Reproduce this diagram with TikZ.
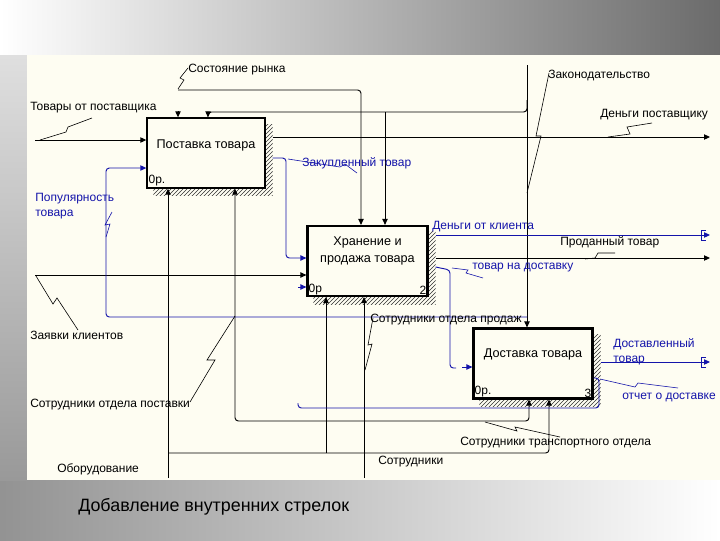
\documentclass[tikz,border=0pt]{standalone}
\usepackage{fontspec}
\setmainfont{Liberation Sans}
\usetikzlibrary{calc,patterns,arrows.meta}
\pgfdeclarelayer{bg}
\pgfsetlayers{bg,main}
\definecolor{cream}{RGB}{254,253,242}
\definecolor{idefblue}{RGB}{20,20,170}
\begin{document}
\begin{tikzpicture}[x=0.75pt,y=-0.75pt,
  lbl/.style={font=\fontsize{9}{11}\selectfont, inner sep=0pt, anchor=west, align=left},
  blbl/.style={lbl, text=idefblue},
  box/.style={draw, fill=cream, line width=1.6pt, minimum width=89.25pt, minimum height=52.5pt, inner sep=0pt},
  boxtxt/.style={font=\fontsize{9.5}{12.5}\selectfont, align=center, inner sep=0pt},
  corner/.style={font=\fontsize{9}{10}\selectfont, inner sep=1.5pt},
  con/.style={line width=0.7pt, rounded corners=2.5pt},
  bcon/.style={con, draw=idefblue},
  tip/.style={-{Triangle[length=4.5pt,width=4pt]}},
  sq/.style={line width=0.45pt},
  brk/.style={line width=0.7pt}
]
\useasboundingbox (0,0) rectangle (720,540);

% boxes
\node[box, line width=1pt, minimum width=88.5pt] (b1) at (206,153) {};
\node[box, minimum width=90pt] (b2) at (367.5,261) {};
\node[box] (b3) at (533,363.5) {};
\node[boxtxt] (b1t) at ($(b1.center)+(0,-8)$) {Поставка товара};
\node[boxtxt] (b2t) at ($(b2.center)+(0,-10)$) {Хранение и\\продажа товара};
\node[boxtxt] (b3t) at ($(b3.center)+(0,-9)$) {Доставка товара};
\node[corner, anchor=south west] (b1c) at (b1.south west) {0р.};
\node[corner, anchor=south west] (b2c) at (b2.south west) {0р};
\node[corner, anchor=south east] (b2n) at (b2.south east) {2};
\node[corner, anchor=south west] (b3c) at (b3.south west) {0р.};
\node[corner, anchor=south east] (b3n) at (b3.south east) {3};

\begin{pgfonlayer}{bg}
  \shade[left color=gray!85, right color=white] (0,0) rectangle (720,540);
  \shade[left color=white, right color=black!58] (0,0) rectangle (720,55);
  \shade[top color=gray!25, bottom color=gray!80] (0,55) rectangle (27,480);
  \fill[cream] (27,55) rectangle (720,480);
  \foreach \b in {b1,b2,b3}{
    \fill[pattern=north east lines, pattern color=black!80]
      ($(\b.north west)+(7,7)$) rectangle ($(\b.south east)+(7,7)$);
  }
\end{pgfonlayer}

% ---------- black arrows
\coordinate (s1) at (35,140);
\draw[con,tip] (s1) -- (b1.west |- s1);
\coordinate (s2) at (178,90);
\draw[con,tip] (s2) -- (361,90) -- (361,0 |- b2.north);
\coordinate (s2b) at (178,111);
\draw[con,tip] (s2b) -- (s2b |- b1.north);
\coordinate (z0) at (527,65);
\draw[con,tip] (z0) -- (z0 |- b3.north);
\draw[con,tip] (527,100) -- (527,112) -- (208,112) -- (208,0 |- b1.north);
\draw[con,tip] (385,112) -- (385,0 |- b2.north);
\coordinate (e1) at (710,137);
\draw[con,tip] ($(b1.east |- e1)+(7,0)$) -- (e1);
\coordinate (s5) at (35,275);
\draw[con,tip] (s5) -- (b2.west |- s5);
\coordinate (m1) at (168,478);
\draw[con,tip] (m1) -- (m1 |- b1.south);
\draw[con,tip] (168,453) -- (549,453) -- (549,0 |- b3.south);
\draw[con,tip] (326,453) -- (326,0 |- b2.south);
\coordinate (m2) at (364,478);
\draw[con,tip] (m2) -- (m2 |- b2.south);
\draw[con,tip] (364,421) -- (235,421) -- (235,0 |- b1.south);
\draw[con,tip] (364,421) -- (529,421) -- (529,0 |- b3.south);
\coordinate (e2) at (710,258);
\draw[con,tip] ($(b2.east |- e2)+(7,0)$) -- (e2);

% ---------- blue arrows
\coordinate (p0) at (527,317);
\draw[bcon,tip] (p0) -- (106,317) -- (106,168) -- (b1.west |- 0,168);
\draw[bcon,tip] ($(b1.east |- 0,158)+(7,0)$) -- (286,158) -- (286,258) -- (b2.west |- 0,258);
\coordinate (st1) at (298,287);
\draw[bcon,tip] (st1) -- (b2.west |- st1);
\coordinate (e3) at (710,235);
\draw[bcon,tip] ($(b2.east |- e3)+(7,0)$) -- (e3);
\draw[brk, idefblue] (706,230) -- (701,230) -- (701,240) -- (706,240);
\draw[bcon] ($(b2.east |- 0,267)+(7,0)$) -- (450,270) -- (450,368) -- (456,368);
\coordinate (st2) at (462,367);
\draw[bcon,tip] (st2) -- (b3.west |- st2);
\coordinate (e4) at (710,362);
\draw[bcon,tip] ($(b3.east |- e4)+(7,0)$) -- (e4);
\draw[brk, idefblue] (706,357) -- (701,357) -- (701,367) -- (706,367);
\draw[bcon] (b3.east |- 0,378) -- (599,378) -- (599,408) -- (298,408) -- (298,403);

% ---------- squiggles
\draw[sq] (92,118) -- (68,127) -- (66,132) -- (40,140);
\draw[sq] (188,68) -- (180,78) -- (184,80) -- (178,89);
\draw[sq] (549,73) -- (536,136) -- (541,136) -- (527,193);
\draw[sq] (652,123) -- (627,127) -- (630,134) -- (608,137);
\draw[sq, idefblue] (288,159) -- (340,167) -- (345,164) -- (357,173);
\draw[sq, idefblue] (112,212) -- (105,225) -- (110,224) -- (106,237);
\draw[sq] (36,276) -- (53,304) -- (57,298) -- (78,330);
\draw[sq] (190,402) -- (215,360) -- (207,360) -- (235,316);
\draw[sq] (373,318) -- (368,345) -- (372,344) -- (365,370);
\draw[sq, idefblue] (483,278) -- (466,273) -- (468,270) -- (452,268);
\draw[sq] (615,253) -- (598,253) -- (595,258) -- (585,259);
\draw[sq, idefblue] (600,379) -- (635,387) -- (638,383) -- (678,388);
\draw[sq] (485,422) -- (517,431) -- (515,427) -- (560,437);

% ---------- labels
\node[lbl] (l1) at (188,70) {Состояние рынка};
\node[lbl] (l2) at (30,108) {Товары от поставщика};
\node[lbl] (l3) at (548,76) {Законодательство};
\node[lbl] (l4) at (600,115) {Деньги поставщику};
\node[blbl] (l5) at (302,163) {Закупленный товар};
\node[blbl] (l6) at (35,206) {Популярность\\товара};
\node[blbl] (l7) at (432,227) {Деньги от клиента};
\node[lbl] (l8) at (560,242) {Проданный товар};
\node[blbl] (l9) at (472,268) {товар на доставку};
\node[lbl] (l10) at (30,335) {Заявки клиентов};
\node[lbl] (l11) at (370,320) {Сотрудники отдела продаж};
\node[blbl] (l12) at (613,352) {Доставленный\\товар};
\node[blbl] (l13) at (622,397) {отчет о доставке};
\node[lbl] (l14) at (30,405) {Сотрудники отдела поставки};
\node[lbl] (l15) at (460,443) {Сотрудники транспортного отдела};
\node[lbl] (l16) at (378,462) {Сотрудники};
\node[lbl] (l17) at (57,469) {Оборудование};
\node[font=\fontsize{13.4}{15}\selectfont, anchor=west, inner sep=0pt] (cap) at (78,507) {Добавление внутренних стрелок};
\end{tikzpicture}
\end{document}
